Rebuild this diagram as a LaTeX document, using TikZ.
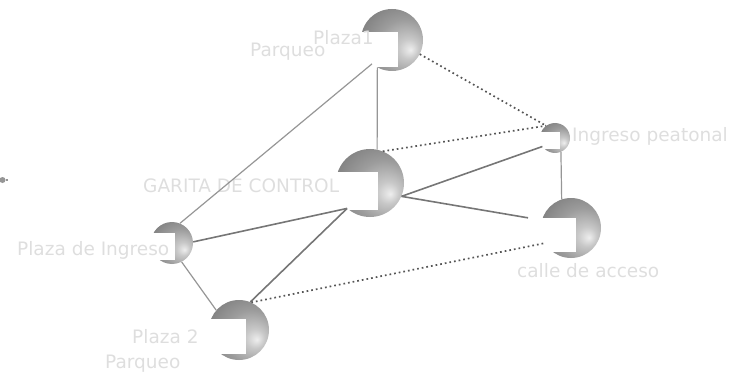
\documentclass[tikz,border=0pt]{standalone}
\usepackage{fontspec}
\setmainfont{DejaVu Sans}
\usepackage{tikz}
\definecolor{sphA}{HTML}{EEEEEE}
\definecolor{sphB}{HTML}{C8C8C8}
\definecolor{sphC}{HTML}{9C9C9C}
\definecolor{sphD}{HTML}{787878}
\definecolor{sphE}{HTML}{555555}
\definecolor{lblc}{HTML}{DEDEDE}
\definecolor{lnlight}{HTML}{969696}
\definecolor{lndark}{HTML}{767676}
\definecolor{dotc}{HTML}{555555}
\pgfdeclareradialshading{sph}{\pgfpoint{15bp}{-8bp}}{color(0bp)=(sphA); color(8bp)=(sphB); color(22bp)=(sphC); color(40bp)=(sphD); color(60bp)=(sphE); color(72bp)=(sphE)}
\tikzset{
  sphere/.style={circle, inner sep=0pt, shading=sph, minimum size=#1},
  cutbox/.style={fill=white, draw=none},
  lbl/.style={text=lblc, inner sep=0pt, anchor=base west, font=\fontsize{18.5}{22}\selectfont},
  lnlt/.style={draw=lnlight, line width=1.2pt},
  lndk/.style={draw=lndark, line width=1.6pt},
  dotln/.style={draw=dotc, line width=1.7pt, dash pattern=on 1.7pt off 3pt}
}
\begin{document}
\begin{tikzpicture}[x=1pt, y=-1pt]
\useasboundingbox (0,0) rectangle (731,377);
% spheres
\node[sphere=62pt] (p1)  at (392,40)  {};
\node[sphere=68pt] (gar) at (370,183) {};
\node[sphere=30pt] (ip)  at (555,138) {};
\node[sphere=60pt] (ca)  at (571,228) {};
\node[sphere=42pt] (pi)  at (172,243) {};
\node[sphere=60pt] (p2)  at (239,330) {};
% cut-outs
\path[cutbox] (359,32)  rectangle (398,67);
\path[cutbox] (334,172) rectangle (378,210);
\path[cutbox] (538,132) rectangle (560,149);
\path[cutbox] (539,218) rectangle (576,252);
\path[cutbox] (149,233) rectangle (175,260);
\path[cutbox] (207,319) rectangle (246,354);
% small mark at left edge
\node[circle, fill=lnlight, inner sep=0pt, minimum size=6pt] (mk) at (2.5,180) {};
\coordinate (mkend) at (8,180);
\draw[lnlt] (mk) -- (mkend);
% labels
\node[lbl] (tP1)  at (313,45)  {Plaza1};
\node[lbl] (tPq1) at (250,57)  {Parqueo};
\node[lbl] (tGar) at (143,193) {GARITA DE CONTROL};
\node[lbl] (tIp)  at (572,142) {Ingreso peatonal};
\node[lbl] (tCa)  at (517,277) {calle de acceso};
\node[lbl] (tPi)  at (17,255)  {Plaza de Ingreso};
\node[lbl] (tP2)  at (132,343) {Plaza 2};
\node[lbl] (tPq2) at (105,368) {Parqueo};
% connectors
\draw[lnlt] (p1.230) -- (pi.68);
\draw[lnlt] (p1.242) -- (gar.78);
\draw[dotln] (p1.333) -- (ip.126);
\draw[dotln] (gar.68) -- (ip.126);
\draw[lndk] (gar.337) -- (ip.214);
\draw[lndk, shorten >=14pt] (gar.337) -- (ca.165);
\draw[lnlt] (ip.293) -- (ca.108);
\draw[lndk] (pi.3) -- (gar.228);
\draw[lndk] (p2.68) -- (gar.228);
\draw[lnlt] (pi.297) -- (p2.139);
\draw[dotln] (p2.66) -- (ca.210);
\end{tikzpicture}
\end{document}
